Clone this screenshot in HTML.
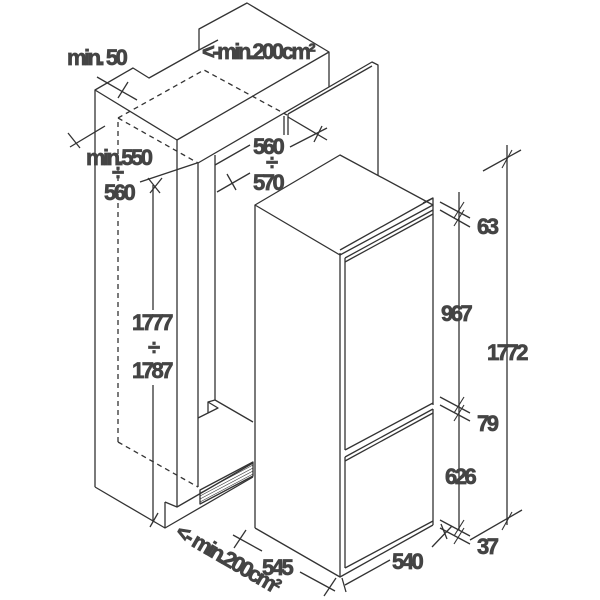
<!DOCTYPE html>
<html><head><meta charset="utf-8"><style>
html,body{margin:0;padding:0;background:#fff;}
svg{display:block;}
text{font-family:"Liberation Sans",sans-serif;font-weight:bold;fill:#444;stroke:#444;stroke-width:0.7;letter-spacing:-2.5px;}
</style></head><body>
<svg width="600" height="600" viewBox="0 0 600 600" xmlns="http://www.w3.org/2000/svg">
<g fill="none" stroke="#333" stroke-width="1.3" stroke-linejoin="round">
<!-- cabinet top block -->
<polyline points="95,487 95,90 133,68 149,78 199,50 199,29 247,3 329,52 329,87"/>
<polyline points="199,50 218,40"/>
<line x1="95" y1="90" x2="177" y2="140"/>
<line x1="177" y1="140" x2="329" y2="52"/>
<!-- right wall panel -->
<polyline points="198,163 372,62 378,65 378,176"/>
<line x1="288" y1="114" x2="372" y2="66"/>
<line x1="288" y1="114" x2="288" y2="135"/>
<line x1="284" y1="116" x2="284" y2="135"/>
<line x1="215" y1="165" x2="250" y2="145"/>
<!-- cabinet verticals -->
<line x1="177" y1="140" x2="177" y2="507"/>
<line x1="198" y1="163" x2="198" y2="487"/>
<line x1="215" y1="155" x2="215" y2="400"/>
<line x1="153" y1="185" x2="153" y2="310"/>
<line x1="153" y1="385" x2="153" y2="522"/>
<!-- bottom -->
<polyline points="95,487 165,528 253,477"/>
<line x1="165" y1="502" x2="165" y2="528"/>
<polyline points="165,502 177,507 253,463"/>
<!-- shelf -->
<polyline points="198,418 218,408 208,402 208,413"/>
<polyline points="208,402 215,400 253,422"/>
<!-- grille -->
<polygon points="200,490 253,462 253,476 200,504"/>
<g stroke-width="0.6">
<line x1="200" y1="493" x2="253" y2="465"/><line x1="200" y1="496" x2="253" y2="468"/>
<line x1="200" y1="499" x2="253" y2="471"/><line x1="200" y1="502" x2="253" y2="474"/>
</g>
<!-- dashed niche -->
<g stroke-dasharray="5,4">
<polyline points="118,442 118,118 204,70 287,115"/>
<line x1="118" y1="118" x2="198" y2="163"/>
<line x1="118" y1="442" x2="198" y2="487"/>
</g>
<!-- fridge -->
<polygon points="255,205 340,155 433,205 340,255" fill="#fff"/>
<line x1="255" y1="205" x2="255" y2="528"/>
<polyline points="255,528 340,577 433,525"/>
<line x1="340" y1="253" x2="340" y2="577"/>
<polyline points="423,203 433,198 433,405"/>
<line x1="340" y1="250" x2="433" y2="198"/>
<line x1="345" y1="258" x2="433" y2="210"/>
<line x1="345" y1="262" x2="433" y2="214"/>
<line x1="345" y1="258" x2="345" y2="450"/>
<line x1="345" y1="450" x2="433" y2="403"/>
<line x1="345" y1="457" x2="433" y2="409"/>
<line x1="345" y1="461" x2="433" y2="413"/>
<line x1="345" y1="457" x2="345" y2="568"/>
<line x1="345" y1="568" x2="433" y2="521"/>
<line x1="433" y1="409" x2="433" y2="525"/>
<!-- right dims -->
<line x1="459" y1="192" x2="459" y2="530"/>
<line x1="507" y1="145" x2="507" y2="525"/>
<line x1="440" y1="202" x2="470" y2="218"/><line x1="440" y1="210" x2="470" y2="227"/>
<line x1="440" y1="397" x2="470" y2="413"/><line x1="440" y1="405" x2="470" y2="421"/>
<line x1="440" y1="520" x2="470" y2="536"/><line x1="440" y1="528" x2="470" y2="544"/>
<line x1="483" y1="171" x2="521" y2="150"/><line x1="470" y1="540" x2="522" y2="510"/>
<g stroke-width="1.1">
<line x1="454" y1="218" x2="464" y2="202"/><line x1="454" y1="226" x2="464" y2="210"/>
<line x1="454" y1="413" x2="464" y2="397"/><line x1="454" y1="421" x2="464" y2="405"/>
<line x1="454" y1="536" x2="464" y2="520"/><line x1="454" y1="544" x2="464" y2="528"/>
<line x1="502" y1="168" x2="512" y2="150"/><line x1="502" y1="530" x2="512" y2="512"/>
</g>
<!-- bottom dims -->
<line x1="233" y1="535" x2="262" y2="551"/><line x1="300" y1="572" x2="335" y2="591"/>
<line x1="234" y1="548" x2="246" y2="530"/><line x1="324" y1="596" x2="336" y2="578"/>
<line x1="345" y1="585" x2="390" y2="560"/><line x1="432" y1="547" x2="452" y2="526"/>
<line x1="346" y1="592" x2="342" y2="578"/><line x1="447" y1="539" x2="441" y2="524"/>
<line x1="150" y1="527" x2="158" y2="513"/>
<!-- top-left dims -->
<line x1="97" y1="77" x2="137" y2="100"/><line x1="118" y1="98" x2="128" y2="82"/>
<line x1="70" y1="147" x2="105" y2="126"/><line x1="68" y1="133" x2="80" y2="148"/>
<line x1="140" y1="182" x2="197" y2="163"/><line x1="148" y1="178" x2="160" y2="193"/><line x1="150" y1="193" x2="162" y2="178"/>
<line x1="217" y1="192" x2="250" y2="173"/><line x1="227" y1="174" x2="236" y2="190"/>
<line x1="290" y1="147" x2="327" y2="128"/><line x1="288" y1="117" x2="327" y2="140"/><line x1="314" y1="142" x2="322" y2="126"/>
</g>
<!-- labels -->
<g font-size="22">
<text x="67" y="65">min. 50</text>
<text x="202" y="59">&lt;-min.200cm²</text>
<text x="86" y="165">min.550</text>
<text x="112" y="180">÷</text>
<text x="104" y="200">560</text>
<text x="253" y="154">560</text>
<text x="266" y="170">÷</text>
<text x="253" y="190">570</text>
<text x="132" y="330">1777</text>
<text x="148" y="355">÷</text>
<text x="132" y="378">1787</text>
<text x="477" y="234">63</text>
<text x="441" y="321">967</text>
<text x="487" y="360">1772</text>
<text x="477" y="431">79</text>
<text x="445" y="484">626</text>
<text x="477" y="554">37</text>
<text x="262" y="575">545</text>
<text x="392" y="569">540</text>
<text x="0" y="0" transform="translate(174,536) rotate(30)">&lt;- min.200cm²</text>
</g>
</svg>
</body></html>
